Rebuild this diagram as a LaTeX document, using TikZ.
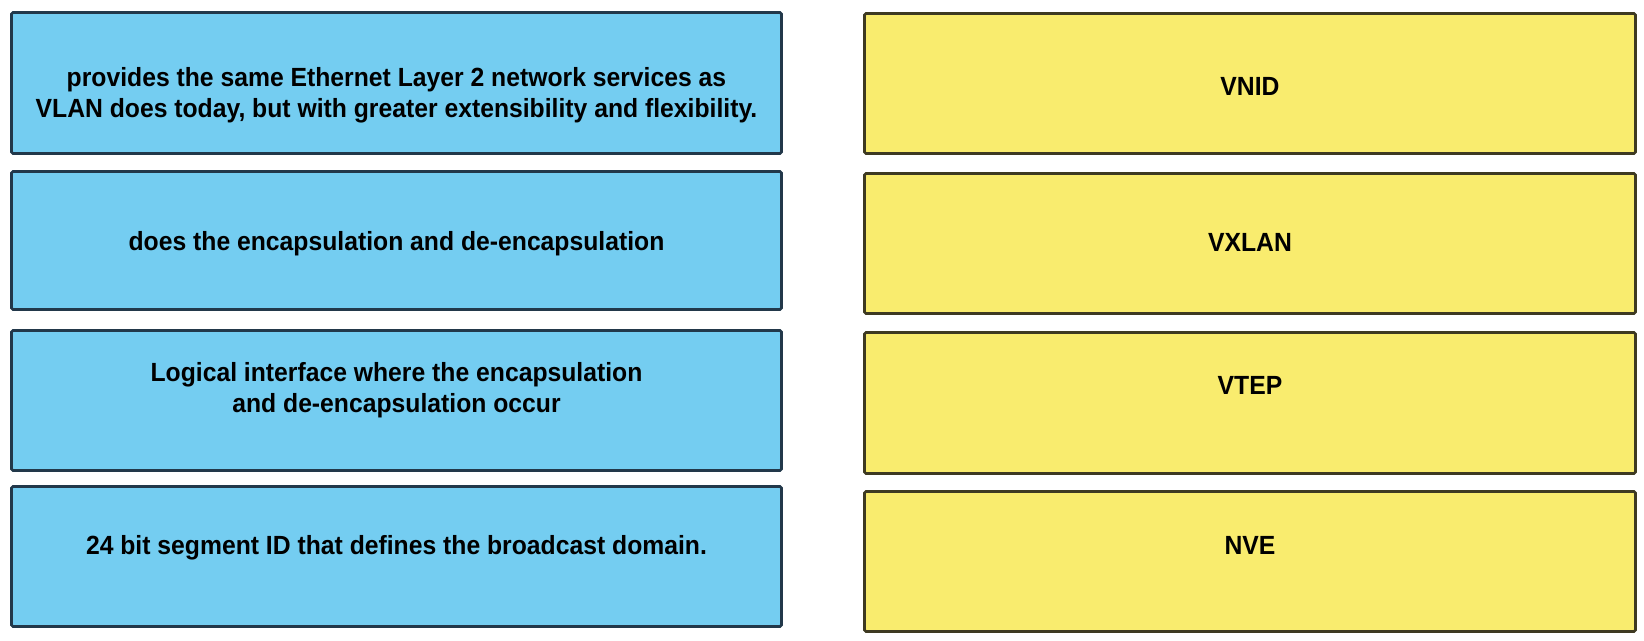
\documentclass[tikz,border=0pt]{standalone}
\usepackage{fontspec}
\setmainfont{Liberation Sans}
\newfontfamily\boxfont[FakeStretch=0.94]{Liberation Sans}
\definecolor{boxblue}{HTML}{74CDF1}
\definecolor{boxyellow}{HTML}{F9EC6E}
\definecolor{blueedge}{HTML}{22384A}
\definecolor{yellowedge}{HTML}{3E3A22}

\begin{document}
\begin{tikzpicture}[x=1pt,y=-1pt,
  desc/.style={draw=blueedge,fill=boxblue,line width=2.6pt,rounded corners=1.5pt,minimum width=770pt,inner sep=0pt},
  term/.style={draw=yellowedge,fill=boxyellow,line width=2.6pt,rounded corners=1.5pt,minimum width=771pt,inner sep=0pt},
  lbl/.style={font=\boxfont\bfseries\fontsize{26.3}{31}\selectfont,align=center,inner sep=0pt}]
\useasboundingbox (0,0) rectangle (1644,640);
% left column: descriptions
\foreach \i/\y/\h/\ty/\txt in {1/83/141/95/{provides the same Ethernet Layer 2 network services as\\VLAN does today, but with greater extensibility and flexibility.},
  2/240.5/138/244/{does the encapsulation and de-encapsulation},
  3/400.5/140/390/{Logical interface where the encapsulation\\and de-encapsulation occur},
  4/556.5/140/548/{24 bit segment ID that defines the broadcast domain.}}{
  \node[desc,minimum height=\h pt] (d\i) at (396.5,\y) {};
  \node[lbl] (dt\i) at (396.5,\ty) {\txt};
}
% right column: terms
\foreach \i/\y/\h/\ty/\txt in {1/83.5/140/86/VNID,2/243.5/140/242/VXLAN,3/403/141/385/VTEP,4/561.5/140/545/NVE}{
  \node[term,minimum height=\h pt] (t\i) at (1250,\y) {};
  \node[lbl] (tt\i) at (1250,\ty) {\txt};
}
\end{tikzpicture}
\end{document}
